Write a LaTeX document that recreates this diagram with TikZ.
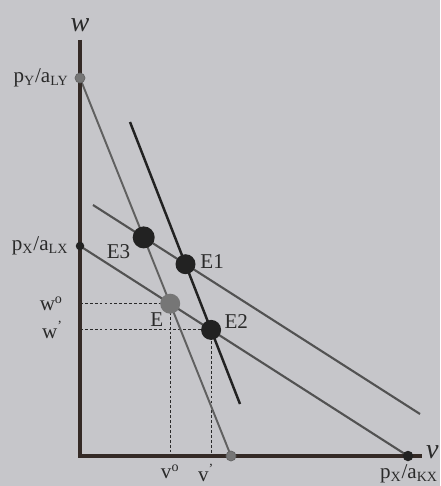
\documentclass[tikz,border=0pt]{standalone}
\usepackage{fontspec}
\setmainfont{Liberation Serif}
\usepackage{xcolor}
\usepackage{tikz}
\usetikzlibrary{positioning, calc, backgrounds}

\definecolor{paper}{RGB}{198,198,202}
\definecolor{axisbrown}{RGB}{52,42,38}
\definecolor{inkgray}{RGB}{96,96,96}
\definecolor{inkdark}{RGB}{34,34,34}
\definecolor{dotgray}{RGB}{118,118,118}
\definecolor{textink}{RGB}{42,42,42}

\begin{document}
\begin{tikzpicture}[
    x=0.02cm, y=-0.02cm,
    font=\fontsize{12}{14}\selectfont,
    axis/.style={line width=2.8pt, draw=axisbrown, line join=miter},
    yline/.style={line width=1.1pt, draw=inkgray},
    xline/.style={line width=1.2pt, draw=inkgray!85!black},
    shiftline/.style={line width=1.4pt, draw=inkdark},
    guide/.style={line width=0.6pt, draw=textink, dash pattern=on 1.6pt off 1.2pt},
    eqdot/.style={circle, fill=inkdark, inner sep=0pt, minimum size=0.4cm},
    enddot/.style={circle, fill=dotgray, draw=inkdark!70, line width=0.4pt, inner sep=0pt, minimum size=0.2cm},
    axdot/.style={circle, fill=inkdark, inner sep=0pt, minimum size=0.17cm},
    lbl/.style={text=textink, inner sep=1pt},
    axlbl/.style={text=textink, inner sep=1pt, font=\fontsize{16}{18}\selectfont\itshape}
]

\useasboundingbox (0,0) rectangle (440,486);

% Axes
\coordinate (O) at (80,456);
\coordinate (WTop) at (80,40);
\coordinate (VEnd) at (422,456);

% Intercepts
\node[enddot] (PY) at (80,78) {};
\node[axdot] (PX) at (80,246) {};
\node[enddot] (PK) at (231,456) {};
\node[axdot, minimum size=0.21cm] (PXK) at (408,456) {};

% Equilibria
\node[eqdot, fill=dotgray] (E) at (170.2,303.7) {};
\node[eqdot, minimum size=0.44cm] (E3) at (143.7,237.4) {};
\node[eqdot] (E1) at (185.5,264.2) {};
\node[eqdot] (E2) at (211.1,329.9) {};

% Free ends of the shifted lines
\coordinate (XStart) at (93,205);
\coordinate (XEnd) at (420,414);
\coordinate (YStart) at (130,122);
\coordinate (YEnd) at (240,404);

% Guide feet
\coordinate (Wo) at (E.center -| O);
\coordinate (Vo) at (E.center |- O);
\coordinate (W1) at (E2.center -| O);
\coordinate (V1) at (E2.center |- O);

% Lines under the dots
\begin{scope}[on background layer]
\fill[paper] (0,0) rectangle (440,486);
\draw[guide] (Wo) -- (E.center) -- (Vo);
\draw[guide] (W1) -- (E2.center) -- (V1);
\draw[yline] (PY.center) -- (PK.center);
\draw[xline] (PX.center) -- (PXK.center);
\draw[xline] (XStart) -- (XEnd);
\draw[shiftline] (YStart) -- (YEnd);
\draw[axis] (WTop) -- (O) -- (VEnd);
\end{scope}

% Labels
\node[axlbl, above=0.12cm of WTop] (WLab) {w};
\node[axlbl, right=0.04cm of VEnd, yshift=0.08cm] (VLab) {v};
\node[lbl, left=0.08cm of PY] (PYLab) {p\textsubscript{Y}/a\textsubscript{LY}};
\node[lbl, left=0.1cm of PX] (PXLab) {p\textsubscript{X}/a\textsubscript{LX}};
\node[lbl, below=0.02cm of PXK, xshift=0.02cm] (PXKLab) {p\textsubscript{X}/a\textsubscript{KX}};
\node[lbl, left=0.3cm of Wo] (WoLab) {w\textsuperscript{o}};
\node[lbl, left=0.3cm of W1] (W1Lab) {w\textsuperscript{'}};
\node[lbl, below=0.13cm of Vo] (VoLab) {v\textsuperscript{o}};
\node[lbl, below=0.13cm of V1, xshift=-0.1cm] (V1Lab) {v\textsuperscript{'}};
\node[lbl, left=0pt of E3, yshift=-0.28cm] (E3Lab) {E3};
\node[lbl, right=0.05cm of E1, yshift=0.06cm] (E1Lab) {E1};
\node[lbl, below left=0pt and -0.05cm of E] (ELab) {E};
\node[lbl, right=0.02cm of E2, yshift=0.16cm] (E2Lab) {E2};

\end{tikzpicture}
\end{document}
